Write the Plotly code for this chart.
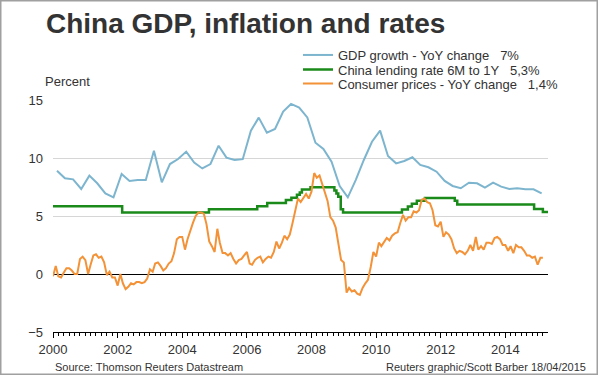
import pandas as pd
import plotly.graph_objects as go

# ---------------- data ----------------
# GDP growth, YoY %, quarterly 2000Q1 .. 2015Q1
gdp_growth = [8.9, 8.25, 8.16, 7.33, 8.48, 7.82, 6.95, 6.6,
              8.62, 8.02, 8.1, 8.1, 10.63, 7.9, 9.48, 9.91,
              10.55, 9.6, 9.1, 9.48, 11.06, 10.03, 9.83, 9.9,
              12.36, 13.48, 12.18, 12.5, 14.0, 14.66, 14.35, 13.5,
              11.32, 10.78, 9.68, 7.59, 6.61, 8.1, 9.83, 11.4,
              12.36, 10.17, 9.54, 9.74, 10.06, 9.4, 9.2, 8.82,
              8.02, 7.59, 7.39, 7.87, 7.82, 7.44, 7.87, 7.53,
              7.33, 7.39, 7.3, 7.3, 6.95]
gdp_dates = pd.date_range("2000-02-01", periods=len(gdp_growth), freq="3MS") + pd.Timedelta(days=14)

# China lending rate 6M to 1Y, % (change dates and new levels)
rate_dates = ["2000-01-01", "2002-02-21", "2004-10-29", "2006-04-28", "2006-08-19",
              "2007-03-18", "2007-05-19", "2007-07-21", "2007-08-22", "2007-09-15",
              "2007-12-21", "2008-09-16", "2008-10-09", "2008-10-30", "2008-11-27",
              "2008-12-23", "2010-10-20", "2010-12-26", "2011-02-09", "2011-04-06",
              "2011-07-07", "2012-06-08", "2012-07-06", "2014-11-22", "2015-03-01",
              "2015-04-28"]
rate_values = [5.85, 5.31, 5.58, 5.85, 6.12,
               6.39, 6.57, 6.84, 7.02, 7.29,
               7.47, 7.20, 6.93, 6.66, 5.58,
               5.31, 5.56, 5.81, 6.06, 6.31,
               6.56, 6.31, 6.00, 5.60, 5.35,
               5.35]

# Consumer prices YoY %, monthly Jan 2000 .. Mar 2015
cpi = [
    -0.2, 0.7, -0.2, -0.3, 0.1, 0.5, 0.5, 0.3, 0.0, 0.0, 1.3, 1.5,   # 2000
    1.2, 0.0, 0.8, 1.6, 1.7, 1.4, 1.5, 1.0, -0.1, 0.2, -0.3, -0.3,   # 2001
    -1.0, 0.0, -0.8, -1.3, -1.1, -0.8, -0.9, -0.7, -0.7, -0.8, -0.7, -0.4,  # 2002
    0.4, 0.2, 0.9, 1.0, 0.7, 0.3, 0.5, 0.9, 1.1, 1.8, 3.0, 3.2,     # 2003
    3.2, 2.1, 3.0, 3.8, 4.4, 5.0, 5.3, 5.3, 5.2, 4.3, 2.8, 2.4,     # 2004
    1.9, 3.9, 2.7, 1.8, 1.8, 1.6, 1.8, 1.3, 0.9, 1.2, 1.3, 1.6,     # 2005
    1.9, 0.9, 0.8, 1.2, 1.4, 1.5, 1.0, 1.3, 1.5, 1.4, 1.9, 2.8,     # 2006
    2.2, 2.7, 3.3, 3.0, 3.4, 4.4, 5.6, 6.5, 6.2, 6.5, 6.9, 6.5,     # 2007
    7.1, 8.7, 8.3, 8.5, 7.7, 7.1, 6.3, 4.9, 4.6, 4.0, 2.4, 1.2,     # 2008
    1.0, -1.6, -1.2, -1.5, -1.4, -1.7, -1.8, -1.2, -0.8, -0.5, 0.6, 1.9,  # 2009
    1.5, 2.7, 2.4, 2.8, 3.1, 2.9, 3.3, 3.5, 3.6, 4.4, 5.1, 4.6,     # 2010
    4.9, 4.9, 5.4, 5.3, 5.5, 6.4, 6.5, 6.2, 6.1, 5.5, 4.2, 4.1,     # 2011
    4.5, 3.2, 3.6, 3.4, 3.0, 2.2, 1.8, 2.0, 1.9, 1.7, 2.0, 2.5,     # 2012
    2.0, 3.2, 2.1, 2.4, 2.1, 2.7, 2.7, 2.6, 3.1, 3.2, 3.0, 2.5,     # 2013
    2.5, 2.0, 2.4, 1.8, 2.5, 2.3, 2.3, 2.0, 1.6, 1.6, 1.4, 1.5,     # 2014
    0.8, 1.4, 1.4,                                                  # 2015
]
cpi_dates = pd.date_range("2000-01-01", periods=len(cpi), freq="MS")

series_names = ["GDP growth - YoY change\u00a0\u00a0\u00a07%",
                "China lending rate 6M to 1Y\u00a0\u00a0\u00a05,3%",
                "Consumer prices - YoY change\u00a0\u00a0\u00a01,4%"]
y_ticks = [-5, 0, 5, 10, 15]
x_range = ["2000-01-01", "2015-04-28"]

# ---------------- layout geometry ----------------
W, H = 600, 376
L, R, T, B = 53, 52, 100, 44
PW, PH = W - L - R, H - T - B


def px(x):
    return (x - L) / PW


def py(y):
    return (H - B - y) / PH


FONT = "Liberation Sans, Arial, sans-serif"
TXT = "#333333"

fig = go.Figure()
fig.add_trace(go.Scatter(x=gdp_dates, y=gdp_growth, mode="lines", name=series_names[0],
                         line=dict(color="#7db5cf", width=2), legend="legend"))
fig.add_trace(go.Scatter(x=rate_dates, y=rate_values, mode="lines", name=series_names[1],
                         line=dict(color="#1a8a1a", width=2.5, shape="hv"), legend="legend2"))
fig.add_trace(go.Scatter(x=cpi_dates, y=cpi, mode="lines", name=series_names[2],
                         line=dict(color="#f39237", width=2), legend="legend3"))

leg_common = dict(xanchor="left", yanchor="middle", bgcolor="rgba(0,0,0,0)",
                  font=dict(family=FONT, size=13, color=TXT), borderwidth=0)
leg_x = px(298)

fig.update_layout(
    width=W, height=H,
    margin=dict(l=L, r=R, t=T, b=B, pad=0),
    paper_bgcolor="white", plot_bgcolor="white",
    showlegend=True,
    legend=dict(x=leg_x, y=py(55), **leg_common),
    legend2=dict(x=leg_x, y=py(69.5), **leg_common),
    legend3=dict(x=leg_x, y=py(83.5), **leg_common),
    font=dict(family=FONT, size=13, color=TXT),
    xaxis=dict(
        type="date", range=x_range, showgrid=False, zeroline=False,
        showline=True, linecolor="black", linewidth=1,
        ticks="outside", ticklen=5, tickcolor="black", tickwidth=1,
        tick0="2000-01-01", dtick="M24", tickformat="%Y",
        tickfont=dict(family=FONT, size=13, color=TXT),
        minor=dict(dtick="M2", ticks="outside", ticklen=3, tickcolor="black", tickwidth=1, showgrid=False),
    ),
    yaxis=dict(
        range=[-5, 15], tickvals=y_ticks, showgrid=True, gridcolor="#d6d6d6", gridwidth=1,
        zeroline=True, zerolinecolor="black", zerolinewidth=1,
        showline=False, ticks="", ticklabelstandoff=9,
        tickfont=dict(family=FONT, size=13, color=TXT),
    ),
    annotations=[
        dict(text="<b>China GDP, inflation and rates</b>", x=px(44), y=py(23.5), xref="paper", yref="paper",
             xanchor="left", yanchor="middle", showarrow=False,
             font=dict(family=FONT, size=28, color=TXT)),
        dict(text="Percent", x=px(43), y=py(81.5), xref="paper", yref="paper",
             xanchor="left", yanchor="middle", showarrow=False,
             font=dict(family=FONT, size=13, color=TXT)),
        dict(text="Source: Thomson Reuters Datastream", x=px(53), y=py(366.5), xref="paper", yref="paper",
             xanchor="left", yanchor="middle", showarrow=False,
             font=dict(family=FONT, size=11, color=TXT)),
        dict(text="Reuters graphic/Scott Barber 18/04/2015", x=px(588), y=py(366.5), xref="paper", yref="paper",
             xanchor="right", yanchor="middle", showarrow=False,
             font=dict(family=FONT, size=11, color=TXT)),
    ],
    shapes=[
        dict(type="rect", xref="paper", yref="paper", x0=px(0.75), x1=px(597.25), y0=py(374.25), y1=py(0.75),
             line=dict(color="#a0a0a0", width=1.5), fillcolor="rgba(0,0,0,0)", layer="below"),
    ],
)

fig.write_html("out.html",
               config={"displayModeBar": False, "staticPlot": False},
               post_script="document.body.style.margin='0';document.body.style.padding='0';"
                           "document.documentElement.style.overflow='hidden';")
